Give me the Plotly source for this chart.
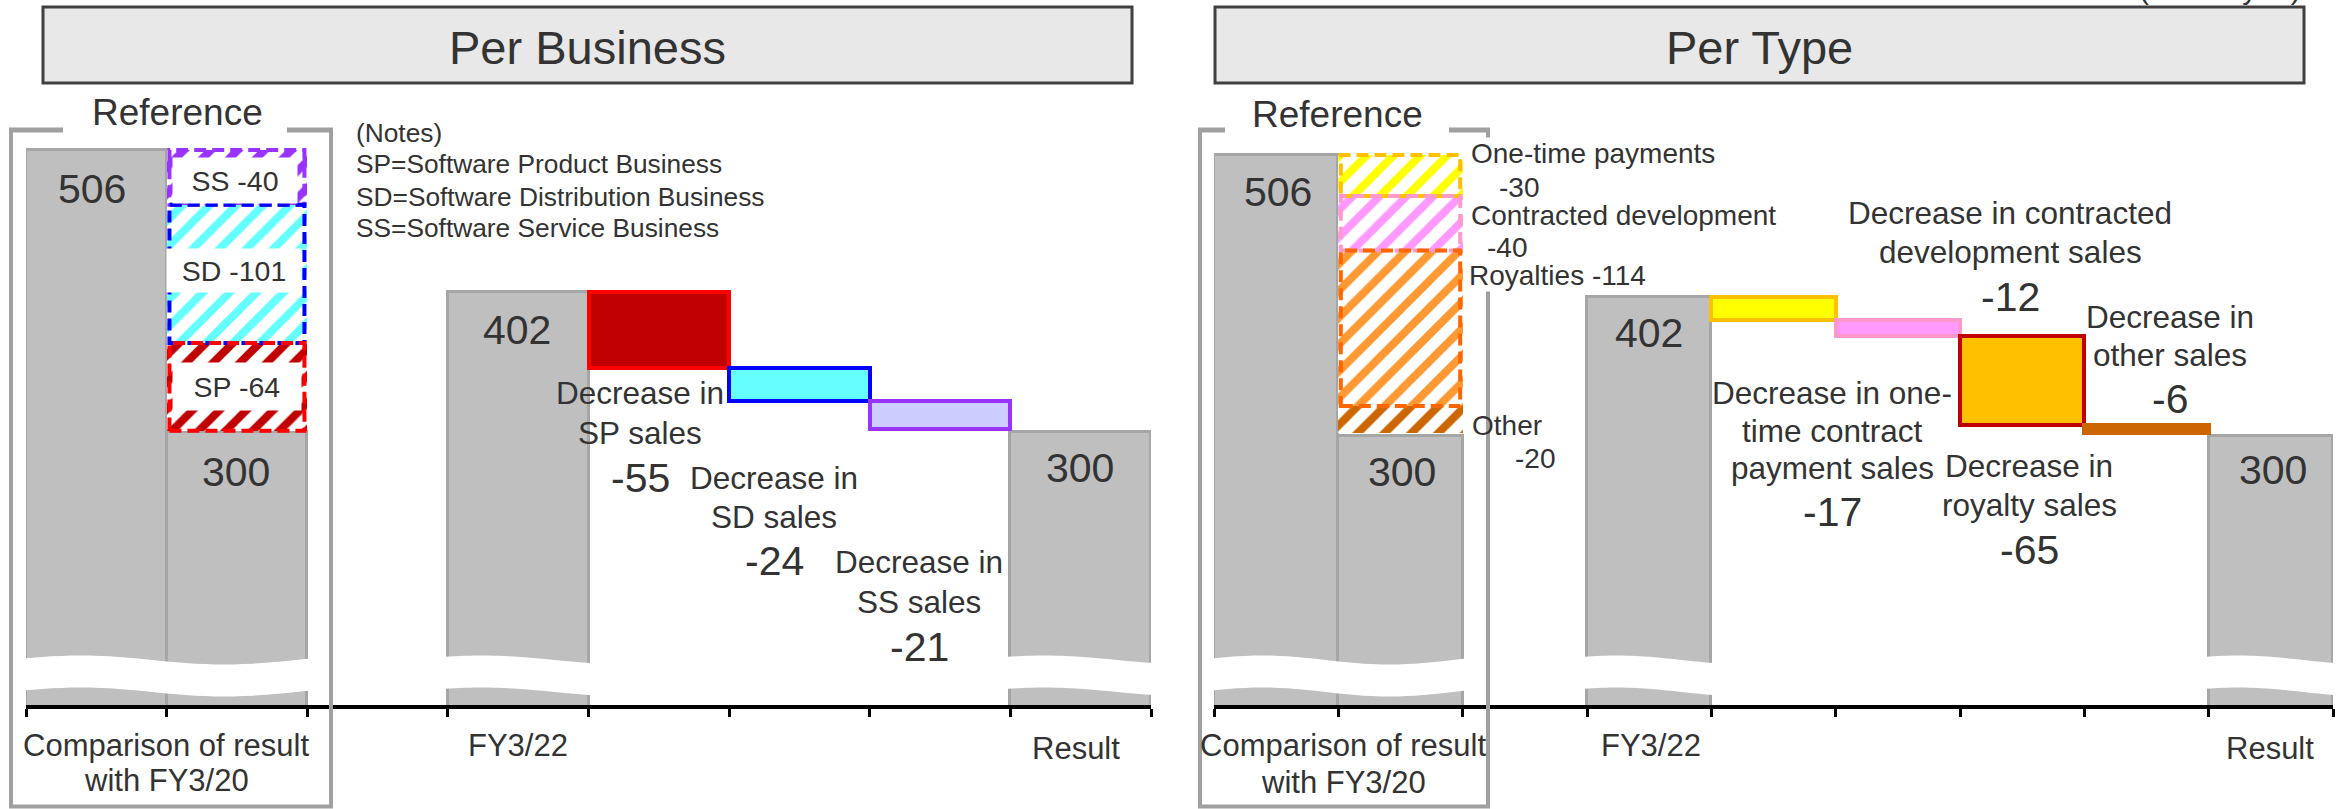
import math
import plotly.graph_objects as go

# ------------------------------------------------------------------ data
BIZ_CATEGORIES = ["FY3/20", "FY3/20 vs result", "spacer", "FY3/22", "SP", "SD", "SS", "Result"]
TYPE_CATEGORIES = ["FY3/20", "FY3/20 vs result", "spacer", "FY3/22",
                   "One-time", "Contracted", "Royalties", "Other", "Result"]

FY20_SALES = 506
FY22_SALES = 402
RESULT_SALES = 300

BIZ_REF_NAMES = ["SS", "SD", "SP"]
BIZ_REF_VALUES = [-40, -101, -64]

BIZ_STEP_NAMES = ["SP", "SD", "SS"]
BIZ_STEP_VALUES = [-55, -24, -21]
BIZ_STEP_TEXT = [["Decrease in", "SP sales"],
                 ["Decrease in", "SD sales"],
                 ["Decrease in", "SS sales"]]

TYPE_REF_NAMES = ["One-time payments", "Contracted development", "Royalties", "Other"]
TYPE_REF_VALUES = [-30, -40, -114, -20]

TYPE_STEP_VALUES = [-17, -12, -65, -6]
TYPE_STEP_TEXT = [["Decrease in one-", "time contract", "payment sales"],
                  ["Decrease in contracted", "development sales"],
                  ["Decrease in", "royalty sales"],
                  ["Decrease in", "other sales"]]

TICK_LABELS = [["Comparison of result", "with FY3/20"], ["FY3/22"], ["Result"]]
NOTES = ["(Notes)", "SP=Software Product Business",
         "SD=Software Distribution Business", "SS=Software Service Business"]
PANEL_TITLES = ["Per Business", "Per Type"]
UNIT_TEXT = "(Million yen)"

# ------------------------------------------------------------------ style
W, H = 2348, 809
FONT = "Liberation Sans, Arial, sans-serif"
TXT = "#333333"
GRAY_FILL = "#bfbfbf"
GRAY_LINE = "#a6a6a6"
FRAME = "#a0a0a0"

BIZ_REF_STYLE = [("#9933ff", "#9933ff"), ("#66ffff", "#0000ff"), ("#c00000", "#ff0000")]
BIZ_STEP_STYLE = [("#c00000", "#ff0000"), ("#66ffff", "#0000ff"), ("#ccccff", "#9933ff")]
TYPE_REF_STYLE = [("#ffff00", "#ffc000"), ("#ff99ff", "#ff99cc"),
                  ("#ff9933", "#ff6600"), ("#cc6600", None)]
TYPE_STEP_STYLE = [("#ffff00", "#ffc000"), ("#ff99ff", "#ff99cc"),
                   ("#ffc000", "#c00000"), ("#cc6600", "#cc6600")]

# plot-area geometry (pixels)
LEFT_X = (26, 1151)
RIGHT_X = (1214, 2333)
PLOT_TOP, PLOT_BOTTOM = 120, 705
LEFT_YRANGE = [100.6, 527.9]
RIGHT_YRANGE = [102.8, 531.7]


def px(x):
    return x / W


def py(y):
    return 1 - y / H


def cascade(start, values):
    """Floating bar bases/heights for a run of decreases from `start`."""
    bases, heights, level = [], [], start
    for v in values:
        level += v
        bases.append(level)
        heights.append(-v)
    return bases, heights


fig = go.Figure()
shapes, annotations = [], []


def text(t, x, y, size, xanchor="center", bg=None, width=None, height=None, pad=0):
    a = dict(text=t, x=px(x), y=py(y), xref="paper", yref="paper", showarrow=False,
             xanchor=xanchor, yanchor="middle",
             font=dict(family=FONT, size=size, color=TXT))
    if bg:
        a.update(bgcolor=bg, borderpad=pad)
    if width:
        a["width"] = width
    if height:
        a["height"] = height
    annotations.append(a)


def wave(x_left, x_right, pair):
    """White break band drawn across the truncated gray bars."""
    n = 30
    top = []
    for k in range(n + 1):
        t = k / n
        if pair:
            yt = 660 - 4.5 * math.sin(2 * math.pi * t + 0.1 * math.pi)
        else:
            yt = 660 - 4.5 * math.sin(math.pi * (t + 0.25))
        top.append((x_left + (x_right - x_left) * t, yt))
    bot = [(x, y + 32) for x, y in reversed(top)]
    pts = top + bot
    path = "M " + " L ".join(f"{px(x):.6f},{py(y):.6f}" for x, y in pts) + " Z"
    shapes.append(dict(type="path", path=path, xref="paper", yref="paper",
                       fillcolor="white", line=dict(width=0), layer="above"))


def panel(xa, ya, cats, ref_values, ref_style, step_values, step_style, x_dom):
    # gray totals
    gx = [cats[0], cats[1], cats[3], cats[-1]]
    gy = [FY20_SALES, RESULT_SALES, FY22_SALES, RESULT_SALES]
    fig.add_trace(go.Bar(x=gx, y=gy, base=0, xaxis=xa, yaxis=ya, width=1,
                         marker=dict(color=GRAY_FILL, line=dict(color=GRAY_LINE, width=3)),
                         showlegend=False, hoverinfo="skip"))
    # hatched breakdown of the FY3/20 -> result gap
    rb, rh = cascade(FY20_SALES, ref_values)
    for b, h, (fg, edge) in zip(rb, rh, ref_style):
        fig.add_trace(go.Bar(x=[cats[1]], y=[h], base=[b], xaxis=xa, yaxis=ya, width=1,
                             marker=dict(color="white", line=dict(width=0),
                                         pattern=dict(shape="/", fgcolor=fg, bgcolor="white",
                                                      size=19, solidity=0.42,
                                                      fgopacity=1, fillmode="overlay")),
                             showlegend=False, hoverinfo="skip"))
        if edge:
            shapes.append(dict(type="rect", xref=xa, yref=ya, x0=0.52, x1=1.48,
                               y0=b, y1=b + h, line=dict(color=edge, width=4, dash="12px,6px"),
                               fillcolor="rgba(0,0,0,0)", layer="above"))
    # waterfall of decreases
    sb, sh = cascade(FY22_SALES, step_values)
    for i, (b, h, (fill, edge)) in enumerate(zip(sb, sh, step_style)):
        fig.add_trace(go.Bar(x=[cats[4 + i]], y=[h], base=[b], xaxis=xa, yaxis=ya, width=1,
                             marker=dict(color=fill, line=dict(color=edge, width=4)),
                             showlegend=False, hoverinfo="skip"))
    # break waves on the gray bars
    x0, x1 = x_dom
    cw = (x1 - x0) / len(cats)
    wave(x0 - 3, x0 + 2 * cw + 3, True)
    wave(x0 + 3 * cw - 3, x0 + 4 * cw + 3, False)
    wave(x0 + (len(cats) - 1) * cw - 3, x1 + 3, False)


panel("x", "y", BIZ_CATEGORIES, BIZ_REF_VALUES, BIZ_REF_STYLE,
      BIZ_STEP_VALUES, BIZ_STEP_STYLE, LEFT_X)
panel("x2", "y2", TYPE_CATEGORIES, TYPE_REF_VALUES, TYPE_REF_STYLE,
      TYPE_STEP_VALUES, TYPE_STEP_STYLE, RIGHT_X)

# ------------------------------------------------------------------ frames & titles
for (bx0, bx1), title in zip([(43, 1132), (1215, 2304)], PANEL_TITLES):
    shapes.append(dict(type="rect", xref="paper", yref="paper", x0=px(bx0), x1=px(bx1),
                       y0=py(83), y1=py(7), fillcolor="#e8e8e8",
                       line=dict(color="#404040", width=3), layer="below"))
    text(title, (bx0 + bx1) / 2, 48, 47)


def bracket(xl, xr, gap_l, gap_r, label_x, label_y):
    line = dict(color=FRAME, width=4)
    for x in (xl, xr):
        shapes.append(dict(type="line", xref="paper", yref="paper", x0=px(x), x1=px(x),
                           y0=py(130), y1=py(806.5), line=line, layer="above"))
    shapes.append(dict(type="line", xref="paper", yref="paper", x0=px(xl - 2), x1=px(xr + 2),
                       y0=py(806.5), y1=py(806.5), line=line, layer="above"))
    for a, b in ((xl - 2, gap_l), (gap_r, xr + 2)):
        shapes.append(dict(type="line", xref="paper", yref="paper", x0=px(a), x1=px(b),
                           y0=py(130), y1=py(130), line=dict(color=FRAME, width=5),
                           layer="above"))
    text("Reference", label_x, label_y, 37)


bracket(11, 331, 63, 287, 177, 112)
bracket(1200, 1488, 1225, 1449, 1337, 114)

# white backing of the per-type breakdown captions, over the frame edge
shapes.append(dict(type="rect", xref="paper", yref="paper", x0=px(1468), x1=px(1497),
                   y0=py(288), y1=py(142), fillcolor="white", line=dict(width=0),
                   layer="above"))

text(UNIT_TEXT, 2303, -11, 30, xanchor="right")

for t, y in zip(NOTES, [133, 164, 197, 228]):
    text(t, 354, y, 26.3, xanchor="left")

# ------------------------------------------------------------------ value labels
NUM = 41
LBL = 31.5

# totals
text(str(FY20_SALES), 92, 189, NUM)
text(str(RESULT_SALES), 236, 472, NUM)
text(str(FY22_SALES), 517, 330, NUM)
text(str(RESULT_SALES), 1080, 468, NUM)
text(str(FY20_SALES), 1278, 192, NUM)
text(str(RESULT_SALES), 1402, 472, NUM)
text(str(FY22_SALES), 1649, 333, NUM)
text(str(RESULT_SALES), 2273, 470, NUM)

# breakdown boxes (per business)
for name, v, (cx, cy, bw, bh) in zip(BIZ_REF_NAMES, BIZ_REF_VALUES,
                                     [(235, 180, 124, 45), (234, 270, 134, 43),
                                      (237, 387, 128, 47)]):
    text(f"{name} {v}", cx, cy, 28.5, bg="white", width=bw, height=bh)

# breakdown side labels (per type)
ref_side = [
    [(TYPE_REF_NAMES[0], 1470, 153), (str(TYPE_REF_VALUES[0]), 1498, 187)],
    [(TYPE_REF_NAMES[1], 1470, 215), (str(TYPE_REF_VALUES[1]), 1486, 248)],
    [(f"{TYPE_REF_NAMES[2]} {TYPE_REF_VALUES[2]}", 1468, 275)],
    [(TYPE_REF_NAMES[3], 1470, 425), (str(TYPE_REF_VALUES[3]), 1513, 458)],
]
for i, group in enumerate(ref_side):
    for t, x, y in group:
        text(t, x, y, 28, xanchor="left", bg="white" if i < 3 else None)

# step labels
biz_pos = [(640, 393, 40), (774, 478, 39), (919, 562, 40)]
for lines, v, (cx, cy, step) in zip(BIZ_STEP_TEXT, BIZ_STEP_VALUES, biz_pos):
    for k, ln in enumerate(lines):
        text(ln, cx, cy + k * step, LBL)
    text(str(v), cx, cy + len(lines) * step + 5, NUM)

type_pos = [(1832, 393, 37.5), (2010, 213, 39), (2029, 466, 39), (2170, 317, 38)]
for lines, v, (cx, cy, step) in zip(TYPE_STEP_TEXT, TYPE_STEP_VALUES, type_pos):
    for k, ln in enumerate(lines):
        text(ln, cx, cy + k * step, LBL)
    text(str(v), cx, cy + len(lines) * step + 6, NUM)

# category labels under the axes
for (x, y0), lines in zip([(166, 745), (518, 745), (1076, 748)], TICK_LABELS):
    for k, ln in enumerate(lines):
        text(ln, x, y0 + k * 35, 31)
for (x, y0), lines in zip([(1343, 745), (1651, 745), (2270, 748)], TICK_LABELS):
    for k, ln in enumerate(lines):
        text(ln, x, y0 + k * 37, 31)

# ------------------------------------------------------------------ axes
xcommon = dict(type="category", showgrid=False, zeroline=False, showline=True,
               linecolor="black", linewidth=4, ticks="outside", ticklen=8, tickwidth=3,
               tickcolor="black", tickson="boundaries", showticklabels=False, fixedrange=True)
ycommon = dict(visible=False, showgrid=False, zeroline=False, fixedrange=True)

fig.update_layout(
    width=W, height=H, autosize=False,
    margin=dict(l=0, r=0, t=0, b=0, pad=0),
    paper_bgcolor="white", plot_bgcolor="white",
    barmode="overlay", bargap=0, showlegend=False,
    xaxis=dict(xcommon, domain=[px(LEFT_X[0]), px(LEFT_X[1])], anchor="y",
               categoryorder="array", categoryarray=BIZ_CATEGORIES,
               range=[-0.5, len(BIZ_CATEGORIES) - 0.5]),
    yaxis=dict(ycommon, domain=[py(PLOT_BOTTOM), py(PLOT_TOP)], anchor="x",
               range=LEFT_YRANGE),
    xaxis2=dict(xcommon, domain=[px(RIGHT_X[0]), px(RIGHT_X[1])], anchor="y2",
                categoryorder="array", categoryarray=TYPE_CATEGORIES,
                range=[-0.5, len(TYPE_CATEGORIES) - 0.5]),
    yaxis2=dict(ycommon, domain=[py(PLOT_BOTTOM), py(PLOT_TOP)], anchor="x2",
                range=RIGHT_YRANGE),
    shapes=shapes,
    annotations=annotations,
)

fig.write_html("out.html")
